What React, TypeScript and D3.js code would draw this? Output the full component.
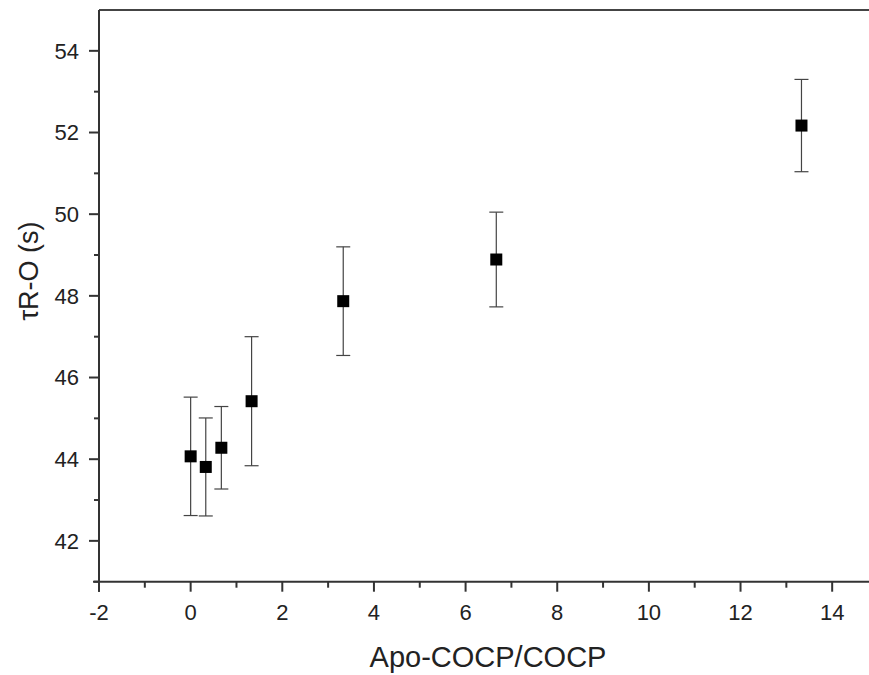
import React from "react";
import * as d3 from "d3";

const ratios = [0, 0.33, 0.67, 1.33, 3.33, 6.67, 13.33];
const tauValues = [44.07, 43.81, 44.28, 45.42, 47.87, 48.89, 52.17];
const tauErrors = [1.45, 1.2, 1.01, 1.58, 1.33, 1.16, 1.13];
const xMajorTicks = [-2, 0, 2, 4, 6, 8, 10, 12, 14];
const xMinorTicks = [-1, 1, 3, 5, 7, 9, 11, 13];
const yMajorTicks = [42, 44, 46, 48, 50, 52, 54];
const yMinorTicks = [41, 43, 45, 47, 49, 51, 53];

const W = 869;
const H = 675;
const left = 99;
const right = 878;
const top = 10;
const bottom = 581.7;

export default function App() {
  const x = d3.scaleLinear().domain([-2, 15]).range([left, right]);
  const y = d3.scaleLinear().domain([41, 55]).range([bottom, top]);
  const axisColor = "#333";
  const font = "'Liberation Sans', Arial, sans-serif";
  const ms = 12;
  const cap = 14;

  return (
    <svg
      width={W}
      height={H}
      style={{ position: "absolute", left: 0, top: 0, display: "block", background: "#fff" }}
    >
      <rect x={0} y={0} width={W} height={H} fill="#fff" />
      {/* top border */}
      <line x1={left} x2={W} y1={top} y2={top} stroke="#444" strokeWidth={2.2} />
      {/* error bars */}
      {ratios.map((r, i) => {
        const cx = x(r);
        const y1 = y(tauValues[i] + tauErrors[i]);
        const y2 = y(tauValues[i] - tauErrors[i]);
        return (
          <g key={"e" + i} stroke="#444" strokeWidth={1.2}>
            <line x1={cx} x2={cx} y1={y1} y2={y2} />
            <line x1={cx - cap / 2} x2={cx + cap / 2} y1={y1} y2={y1} />
            <line x1={cx - cap / 2} x2={cx + cap / 2} y1={y2} y2={y2} />
          </g>
        );
      })}
      {/* markers */}
      {ratios.map((r, i) => (
        <rect
          key={"m" + i}
          x={x(r) - ms / 2}
          y={y(tauValues[i]) - ms / 2}
          width={ms}
          height={ms}
          fill="#000"
        />
      ))}
      {/* axes */}
      <line x1={left - 6} x2={W} y1={bottom} y2={bottom} stroke={axisColor} strokeWidth={2} />
      <line x1={left} x2={left} y1={top} y2={bottom + 10} stroke={axisColor} strokeWidth={2} />
      {xMajorTicks.map((t) => (
        <g key={"xt" + t}>
          <line x1={x(t)} x2={x(t)} y1={bottom} y2={bottom + 10} stroke={axisColor} strokeWidth={2} />
          <text
            x={x(t)}
            y={620}
            textAnchor="middle"
            fontFamily={font}
            fontSize={22}
            fill="#222"
          >
            {t}
          </text>
        </g>
      ))}
      {xMinorTicks.map((t) => (
        <line key={"xm" + t} x1={x(t)} x2={x(t)} y1={bottom} y2={bottom + 6} stroke={axisColor} strokeWidth={2} />
      ))}
      {yMajorTicks.map((t) => (
        <g key={"yt" + t}>
          <line x1={left - 10} x2={left} y1={y(t)} y2={y(t)} stroke={axisColor} strokeWidth={2} />
          <text
            x={79}
            y={y(t)}
            dy="0.36em"
            textAnchor="end"
            fontFamily={font}
            fontSize={22}
            fill="#222"
          >
            {t}
          </text>
        </g>
      ))}
      {yMinorTicks.map((t) => (
        <line key={"ym" + t} x1={left - 5} x2={left} y1={y(t)} y2={y(t)} stroke={axisColor} strokeWidth={2} />
      ))}
      {/* titles */}
      <text
        x={488}
        y={666.5}
        textAnchor="middle"
        fontFamily={font}
        fontSize={29}
        fill="#222"
      >
        Apo-COCP/COCP
      </text>
      <text
        transform="translate(38,271) rotate(-90)"
        textAnchor="middle"
        fontFamily={font}
        fontSize={27}
        fill="#222"
      >
        τR-O (s)
      </text>
    </svg>
  );
}
